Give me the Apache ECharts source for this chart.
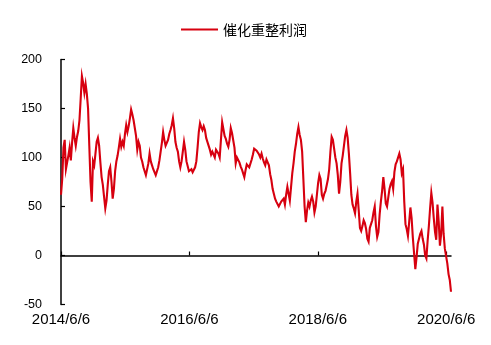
<!DOCTYPE html>
<html><head><meta charset="utf-8">
<script src="https://cdn.jsdelivr.net/npm/echarts@6/dist/echarts.min.js"></script>
<style>html,body{margin:0;padding:0;background:#fff}#c{width:491px;height:345px}</style>
</head><body><div id="c"></div>
<script>
const seriesName = '催化重整利润';
const startDate = '2014-06-06';
const stepDays = 7;
const profit = [
62,78,110,118,88,95,102,110,97,115,130,120,112,121,127,138,160,183,176,166,
175,165,150,112,75,55,96,92,104,116,120,112,95,80,72,60,48,56,72,86,
90,76,58,68,86,96,102,110,119,111,116,112,124,133,126,132,140,149,144,138,
136,122,108,116,112,100,96,90,86,82,80,94,104,96,92,88,86,82,80,90,
97,106,115,126,118,112,110,118,124,128,133,140,130,116,110,106,96,90,96,106,
116,108,96,91,86,87,88,85,87,90,96,110,126,135,131,128,132,128,120,116,
114,108,103,106,108,100,108,107,104,100,118,136,138,122,119,114,111,118,130,125,
126,110,94,100,101,95,91,88,84,80,87,93,95,90,92,98,103,109,110,107,
106,103,100,104,99,95,92,98,96,92,83,77,68,63,58,55,53,50,48,55,
57,58,52,62,70,72,56,70,84,94,106,114,124,131,123,118,106,78,50,34,
46,54,50,56,60,55,44,50,62,74,82,78,62,58,63,66,72,78,88,106,
121,118,109,100,94,82,63,75,94,102,112,122,128,120,104,84,62,52,48,43,
55,63,46,28,25,30,36,33,27,17,14,28,32,36,44,50,30,19,24,42,
55,66,80,68,53,50,59,68,73,76,68,85,93,96,98,104,98,84,88,55,
32,27,20,34,49,38,18,2,-14,-2,12,17,22,25,17,11,0,-3,15,30,
48,64,54,38,24,16,52,35,10,22,50,22,7,9,-8,-19,-25,-37
];
const tickDates = ['2014-06-06', '2016-06-06', '2018-06-06', '2020-06-06'];
const yTicks = [-50, 0, 50, 100, 150, 200];

function toTime(s, addDays) {
  const p = s.split('-').map(Number);
  return new Date(p[0], p[1] - 1, p[2] + (addDays || 0)).getTime();
}
const data = profit.map((v, i) => [toTime(startDate, i * stepDays), v]);
const tickTimes = tickDates.map(d => toTime(d));
const fmt = v => { const d = new Date(v); return d.getFullYear() + '/' + (d.getMonth() + 1) + '/' + d.getDate(); };
const xMin = data[0][0], xMax = data[data.length - 1][0];

const chart = echarts.init(document.getElementById('c'), null, { renderer: 'canvas' });
chart.setOption({
  animation: false,
  backgroundColor: '#fff',
  color: ['#D7000F'],
  legend: {
    left: 176, top: 17,
    icon: 'rect', itemWidth: 37, itemHeight: 2, itemGap: 10,
    textStyle: { fontFamily: 'Noto Sans CJK SC', fontSize: 14, color: '#000', lineHeight: 15 },
    data: [seriesName]
  },
  grid: { left: 61, right: 40, top: 59.5, bottom: 40.5, containLabel: false },
  xAxis: [
    {
      type: 'value', min: xMin, max: xMax, position: 'bottom', scale: true,
      axisLine: { show: false, onZero: false },
      axisTick: { show: false },
      splitLine: { show: false },
      axisLabel: {
        customValues: tickTimes, formatter: fmt, margin: 8,
        fontFamily: 'Liberation Sans', fontSize: 15, color: '#000',
        hideOverlap: false
      }
    },
    {
      type: 'value', min: xMin, max: xMax, position: 'bottom', scale: true,
      axisLine: { show: true, onZero: true, onZeroAxisIndex: 0, lineStyle: { color: '#000', width: 1.5 } },
      axisTick: { show: true, inside: true, length: 4, customValues: tickTimes, lineStyle: { color: '#000', width: 1.2 } },
      axisLabel: { show: false },
      splitLine: { show: false }
    }
  ],
  yAxis: {
    type: 'value', min: yTicks[0], max: yTicks[yTicks.length - 1], interval: 50,
    axisLine: { show: true, onZero: false, lineStyle: { color: '#000', width: 1.5 } },
    axisTick: { show: true, inside: true, length: 4, lineStyle: { color: '#000', width: 1.2 } },
    splitLine: { show: false },
    axisLabel: { margin: 19, fontFamily: 'Liberation Sans', fontSize: 12.5, color: '#000' }
  },
  series: [{
    name: seriesName, type: 'line', xAxisIndex: 0, yAxisIndex: 0,
    data: data, showSymbol: false, symbol: 'none',
    lineStyle: { width: 2.1, color: '#D7000F', join: 'miter' }
  }]
});
</script></body></html>
